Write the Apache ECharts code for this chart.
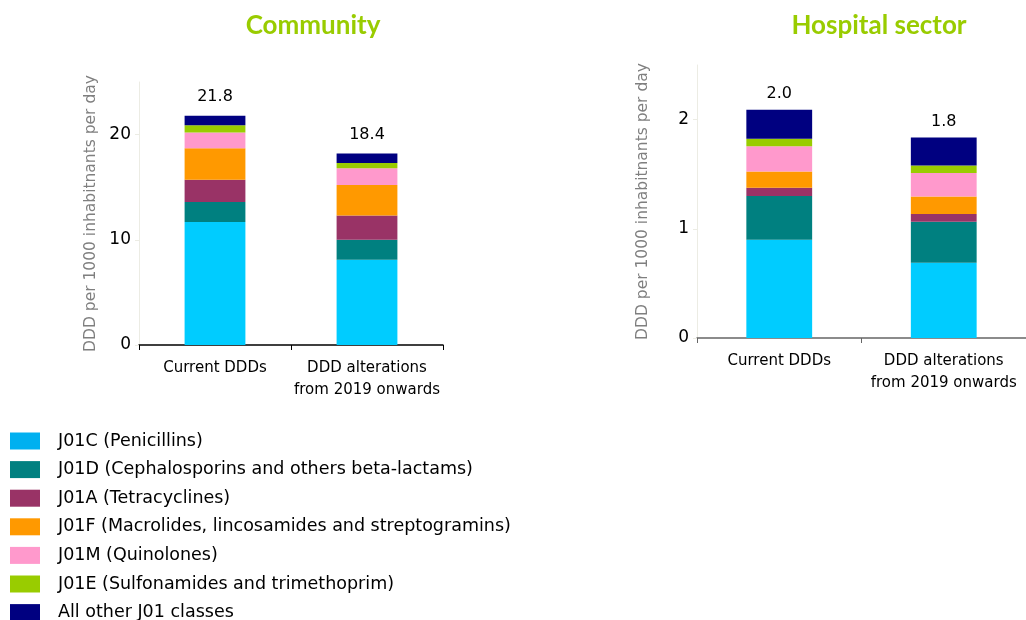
<!DOCTYPE html>
<html><head><meta charset="utf-8">
<script src="https://cdn.jsdelivr.net/npm/echarts@6/dist/echarts.min.js"></script>
<style>html,body{margin:0;padding:0;background:#fff}#c{width:1026px;height:620px}</style>
</head><body><div id="c"></div>
<script>
const categories = ['Current DDDs', 'DDD alterations\nfrom 2019 onwards'];
const seriesNames = ['J01C (Penicillins)', 'J01D (Cephalosporins and others beta-lactams)', 'J01A (Tetracyclines)', 'J01F (Macrolides, lincosamides and streptogramins)', 'J01M (Quinolones)', 'J01E (Sulfonamides and trimethoprim)', 'All other J01 classes'];
const colors = ['#00CCFF', '#008080', '#993366', '#FF9900', '#FF99CC', '#99CC00', '#000080'];
const legendColors = ['#00B0F0', '#008080', '#993366', '#FF9900', '#FF99CC', '#99CC00', '#000080'];
// Community values per class [Current, Alterations]
const communityJ01C = [11.7, 8.1];
const communityJ01D = [1.9, 1.9];
const communityJ01A = [2.1, 2.3];
const communityJ01F = [3.0, 2.9];
const communityJ01M = [1.5, 1.6];
const communityJ01E = [0.7, 0.5];
const communityOther = [0.9, 0.9];
const communityTotals = ['21.8', '18.4'];
// Hospital values
const hospitalJ01C = [0.90, 0.69];
const hospitalJ01D = [0.40, 0.375];
const hospitalJ01A = [0.077, 0.07];
const hospitalJ01F = [0.148, 0.16];
const hospitalJ01M = [0.23, 0.215];
const hospitalJ01E = [0.07, 0.07];
const hospitalOther = [0.265, 0.255];
const hospitalTotals = ['2.0', '1.8'];

const communityData = [communityJ01C, communityJ01D, communityJ01A, communityJ01F, communityJ01M, communityJ01E, communityOther];
const hospitalData = [hospitalJ01C, hospitalJ01D, hospitalJ01A, hospitalJ01F, hospitalJ01M, hospitalJ01E, hospitalOther];

const font = 'DejaVu Sans';
function xAxis(idx, lineColor) {
  return {
    type: 'category', gridIndex: idx, data: categories,
    axisLine: { lineStyle: { color: lineColor, width: 1.5 } },
    axisTick: { show: true, length: 5, alignWithLabel: false, lineStyle: { color: lineColor } },
    axisLabel: { color: '#000', fontFamily: font, fontSize: 15, lineHeight: 22, margin: 12, interval: 0 }
  };
}
function yAxis(idx, max, interval, gap) {
  return {
    type: 'value', gridIndex: idx, min: 0, max: max, interval: interval,
    name: 'DDD per 1000 inhabitnants per day', nameLocation: 'middle', nameGap: gap,
    nameTextStyle: { color: '#7f7f7f', fontFamily: font, fontSize: 15.5 },
    axisLine: { show: true, lineStyle: { color: '#ececE4' } },
    axisTick: { show: true, length: 4, lineStyle: { color: '#ececE4' } },
    splitLine: { show: false },
    axisLabel: { color: '#000', fontFamily: font, fontSize: 17, margin: 8, showMaxLabel: false }
  };
}
const series = [];
function addSeries(data, idx, totals, stack, dist) {
  data.forEach((vals, i) => {
    const s = {
      name: seriesNames[i], type: 'bar', stack: stack, xAxisIndex: idx, yAxisIndex: idx,
      barWidth: '40%', data: vals, itemStyle: { color: colors[i] }
    };
    if (i === data.length - 1) {
      s.label = { show: true, position: 'top', distance: dist, color: '#000', fontFamily: font, fontSize: 16,
        formatter: p => totals[p.dataIndex] };
    }
    series.push(s);
  });
}
addSeries(communityData, 0, communityTotals, 'c', 11);
addSeries(hospitalData, 1, hospitalTotals, 'h', 8);

const chart = echarts.init(document.getElementById('c'));
chart.setOption({
  animation: false,
  title: [
    { text: 'Community', left: 308, top: 8, textAlign: 'center', textStyle: { color: '#99CC00', fontFamily: 'Lato', fontWeight: 'bold', fontSize: 26 } },
    { text: 'Hospital sector', left: 874, top: 8, textAlign: 'center', textStyle: { color: '#99CC00', fontFamily: 'Lato', fontWeight: 'bold', fontSize: 26 } }
  ],
  grid: [
    { left: 139, top: 82, width: 304, height: 263 },
    { left: 697, top: 65, width: 340, height: 273 }
  ],
  xAxis: [xAxis(0, '#000'), xAxis(1, '#666')],
  yAxis: [yAxis(0, 25, 10, 40), yAxis(1, 2.5, 1, 46)],
  legend: {
    orient: 'vertical', left: 10, top: 432, height: 200, padding: 0,
    itemWidth: 30, itemHeight: 17, itemGap: 10.6,
    icon: 'rect',
    textStyle: { color: '#000', fontFamily: font, fontSize: 17.5, lineHeight: 17, padding: [0, 0, 0, 13] },
    data: seriesNames.map((n, i) => ({ name: n, itemStyle: { color: legendColors[i] } }))
  },
  series: series
});
</script></body></html>
